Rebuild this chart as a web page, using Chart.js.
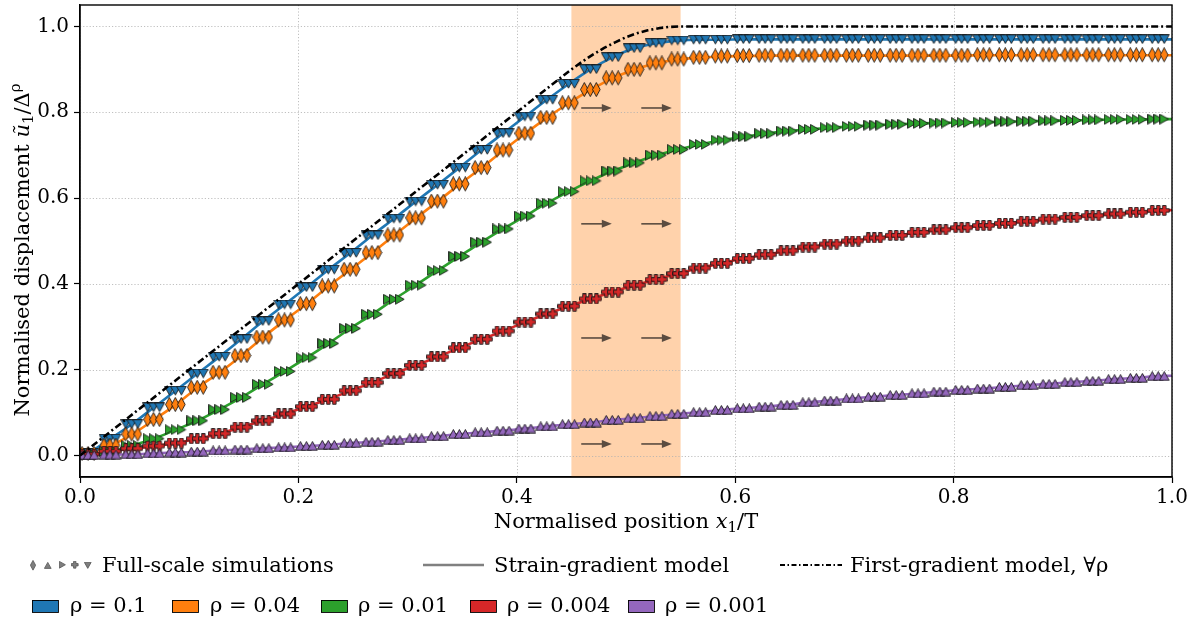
<!DOCTYPE html>
<html>
<head>
<meta charset="utf-8">
<script src="https://cdn.jsdelivr.net/npm/chart.js@4.4.0/dist/chart.umd.min.js"></script>
<style>
html,body{margin:0;padding:0;background:#fff;}
#wrap{position:relative;width:1191px;height:625px;}
canvas{display:block;}
</style>
</head>
<body>
<div id="wrap"><canvas id="c" width="1191" height="625"></canvas></div>
<script>
// ---------------- data ----------------
const xTicks = [0.0, 0.2, 0.4, 0.6, 0.8, 1.0];
const yTicks = [0.0, 0.2, 0.4, 0.6, 0.8, 1.0];

// centres of the 50 marker triplets (normalised position x1/T)
const groupX = [0.0075, 0.0275, 0.0475, 0.0675, 0.0875, 0.1075, 0.1275, 0.1475, 0.1675, 0.1875,
  0.2075, 0.2275, 0.2475, 0.2675, 0.2875, 0.3075, 0.3275, 0.3475, 0.3675, 0.3875,
  0.4075, 0.4275, 0.4475, 0.4675, 0.4875, 0.5075, 0.5275, 0.5475, 0.5675, 0.5875,
  0.6075, 0.6275, 0.6475, 0.6675, 0.6875, 0.7075, 0.7275, 0.7475, 0.7675, 0.7875,
  0.8075, 0.8275, 0.8475, 0.8675, 0.8875, 0.9075, 0.9275, 0.9475, 0.9675, 0.9875];
const tripletOffsets = [-0.0055, 0.0, 0.0055];

const rho01 = [0.006, 0.039, 0.073, 0.112, 0.151, 0.191, 0.230, 0.271, 0.313, 0.352,
  0.392, 0.433, 0.472, 0.513, 0.552, 0.592, 0.631, 0.671, 0.712, 0.751,
  0.790, 0.829, 0.866, 0.900, 0.928, 0.949, 0.961, 0.967, 0.969, 0.969,
  0.970, 0.970, 0.970, 0.970, 0.970, 0.970, 0.970, 0.970, 0.970, 0.970,
  0.970, 0.970, 0.970, 0.970, 0.970, 0.970, 0.970, 0.970, 0.970, 0.970];
const rho004 = [0.004, 0.023, 0.049, 0.083, 0.118, 0.158, 0.193, 0.232, 0.275, 0.315,
  0.353, 0.394, 0.433, 0.472, 0.513, 0.553, 0.592, 0.632, 0.670, 0.711,
  0.750, 0.787, 0.821, 0.852, 0.879, 0.899, 0.914, 0.923, 0.927, 0.930,
  0.931, 0.932, 0.932, 0.932, 0.932, 0.932, 0.932, 0.932, 0.932, 0.932,
  0.932, 0.933, 0.933, 0.933, 0.933, 0.933, 0.933, 0.933, 0.933, 0.933];
const rho001 = [0.002, 0.009, 0.023, 0.039, 0.060, 0.081, 0.107, 0.135, 0.166, 0.196,
  0.228, 0.261, 0.296, 0.329, 0.364, 0.397, 0.431, 0.464, 0.497, 0.528,
  0.558, 0.588, 0.615, 0.640, 0.663, 0.682, 0.700, 0.713, 0.725, 0.735,
  0.743, 0.750, 0.756, 0.760, 0.764, 0.767, 0.770, 0.772, 0.774, 0.775,
  0.776, 0.777, 0.778, 0.779, 0.780, 0.781, 0.782, 0.783, 0.783, 0.784];
const rho0004 = [0.003, 0.010, 0.016, 0.022, 0.029, 0.039, 0.051, 0.066, 0.081, 0.097,
  0.114, 0.131, 0.151, 0.170, 0.191, 0.210, 0.230, 0.251, 0.271, 0.290,
  0.311, 0.330, 0.348, 0.365, 0.381, 0.397, 0.410, 0.424, 0.437, 0.448,
  0.459, 0.468, 0.477, 0.486, 0.493, 0.500, 0.507, 0.513, 0.520, 0.526,
  0.531, 0.536, 0.541, 0.546, 0.551, 0.555, 0.559, 0.563, 0.567, 0.571];
const rho0001 = [0.001, 0.002, 0.003, 0.005, 0.007, 0.009, 0.012, 0.014, 0.017, 0.019,
  0.022, 0.025, 0.029, 0.032, 0.036, 0.040, 0.045, 0.050, 0.054, 0.058,
  0.063, 0.068, 0.073, 0.077, 0.083, 0.087, 0.092, 0.097, 0.101, 0.106,
  0.110, 0.114, 0.118, 0.124, 0.128, 0.133, 0.137, 0.141, 0.145, 0.149,
  0.153, 0.156, 0.160, 0.164, 0.167, 0.171, 0.174, 0.178, 0.181, 0.185];

// strain-gradient model curve: starts at origin, passes the triplet centres, ends at x = 1
const lineStart = [0.0, 0.0];
const lineEndY = {rho01: 0.970, rho004: 0.933, rho001: 0.784, rho0004: 0.572, rho0001: 0.186};

// first-gradient model (same for all rho)
const firstGradX = [0.0, 0.45, 0.46, 0.47, 0.48, 0.49, 0.50, 0.51, 0.52, 0.53, 0.54, 0.55, 1.0];
const firstGradY = [0.0, 0.900, 0.918, 0.935, 0.950, 0.963, 0.975, 0.984, 0.991, 0.996, 0.999, 1.0, 1.0];

// shaded band and arrows
const bandX = [0.45, 0.55];
const arrowY = [0.810, 0.540, 0.274, 0.027];
const arrowSpans = [[0.459, 0.487], [0.514, 0.542]];

const seriesLabels = ['ρ = 0.1', 'ρ = 0.04', 'ρ = 0.01', 'ρ = 0.004', 'ρ = 0.001'];
const seriesKeys = ['rho01', 'rho004', 'rho001', 'rho0004', 'rho0001'];
const seriesValues = [rho01, rho004, rho001, rho0004, rho0001];
const seriesColors = ['#1f77b4', '#ff7f0e', '#2ca02c', '#d62728', '#9467bd'];
const seriesMarkers = ['down', 'diamond', 'right', 'plus', 'up'];

// ---------------- markers ----------------
const FONT = "'DejaVu Serif', 'Liberation Serif', serif";
function shapePath(g, kind, s) {
  const p = (pts) => { g.moveTo(pts[0][0]*s, pts[0][1]*s); for (let i = 1; i < pts.length; i++) g.lineTo(pts[i][0]*s, pts[i][1]*s); };
  if (kind === 'down') p([[0.5,0.5],[9.5,0.5],[5,8.5]]);
  else if (kind === 'up') p([[5,0.5],[9.5,8.5],[0.5,8.5]]);
  else if (kind === 'right') p([[0.5,0.5],[8.5,5],[0.5,9.5]]);
  else if (kind === 'diamond') p([[4,0.5],[7.5,7],[4,13.5],[0.5,7]]);
  else if (kind === 'plus') { const a = 3.4, b = 6.6; p([[a,0.5],[b,0.5],[b,a],[9.5,a],[9.5,b],[b,b],[b,9.5],[a,9.5],[a,b],[0.5,b],[0.5,a],[a,a]]); }
}
const shapeSize = {down:[10,9], up:[10,9], right:[9,10], diamond:[8,14], plus:[10,10]};
function makeMarker(kind, fill, edge, scale, lw) {
  const sz = shapeSize[kind];
  const c = document.createElement('canvas');
  c.width = Math.ceil(sz[0]*scale); c.height = Math.ceil(sz[1]*scale);
  const g = c.getContext('2d');
  g.fillStyle = fill; g.strokeStyle = edge; g.lineWidth = lw || 0.9; g.lineJoin = 'miter';
  g.beginPath(); shapePath(g, kind, scale); g.closePath(); g.fill(); g.stroke();
  return c;
}

// ---------------- datasets ----------------
const datasets = [];
seriesValues.forEach((vals, si) => {
  const lineData = [{x: lineStart[0], y: lineStart[1]}];
  groupX.forEach((x, i) => lineData.push({x: x, y: vals[i]}));
  lineData.push({x: 1.0, y: lineEndY[seriesKeys[si]]});
  datasets.push({
    type: 'line', label: seriesLabels[si] + ' model', data: lineData,
    borderColor: seriesColors[si], borderWidth: 2.6, pointRadius: 0,
    cubicInterpolationMode: 'monotone', fill: false, order: 20 - si
  });
});
seriesValues.forEach((vals, si) => {
  const pts = [];
  groupX.forEach((x, i) => tripletOffsets.forEach(o => pts.push({x: x + o, y: vals[i]})));
  datasets.push({
    type: 'scatter', label: seriesLabels[si], data: pts,
    pointStyle: makeMarker(seriesMarkers[si], seriesColors[si], '#1a1a1a', 1.08, 0.9),
    pointRadius: 4, showLine: false, order: 10 - si
  });
});
datasets.push({
  type: 'line', label: 'First-gradient model', data: firstGradX.map((x, i) => ({x: x, y: firstGradY[i]})),
  borderColor: '#000', borderWidth: 2.6, borderDash: [7, 3, 2, 3], pointRadius: 0, tension: 0, fill: false, order: 0
});

// ---------------- drawing helpers ----------------
function richWidth(ctx, parts) {
  let w = 0;
  parts.forEach(p => { ctx.font = (p.italic ? 'italic ' : '') + p.size + 'px ' + FONT; w += ctx.measureText(p.t).width; });
  return w;
}
function drawRich(ctx, parts, x, y) {
  let cx = x;
  parts.forEach(p => {
    ctx.font = (p.italic ? 'italic ' : '') + p.size + 'px ' + FONT;
    ctx.fillText(p.t, cx, y + (p.dy || 0));
    cx += ctx.measureText(p.t).width;
  });
}

const bgPlugin = {
  id: 'bg',
  beforeDatasetsDraw(chart) {
    const {ctx, chartArea: a, scales: {x, y}} = chart;
    ctx.save();
    ctx.fillStyle = 'rgba(255,127,14,0.35)';
    const bx0 = x.getPixelForValue(bandX[0]), bx1 = x.getPixelForValue(bandX[1]);
    ctx.fillRect(bx0, a.top, bx1 - bx0, a.bottom - a.top);
    ctx.strokeStyle = '#b0b0b0'; ctx.lineWidth = 0.8; ctx.setLineDash([1.2, 2]);
    xTicks.forEach(v => { const px = Math.round(x.getPixelForValue(v)) + 0.5; ctx.beginPath(); ctx.moveTo(px, a.top); ctx.lineTo(px, a.bottom); ctx.stroke(); });
    yTicks.forEach(v => { const py = Math.round(y.getPixelForValue(v)) + 0.5; ctx.beginPath(); ctx.moveTo(a.left, py); ctx.lineTo(a.right, py); ctx.stroke(); });
    ctx.setLineDash([]);
    ctx.strokeStyle = '#5b4c40'; ctx.fillStyle = '#5b4c40'; ctx.lineWidth = 1.6;
    arrowY.forEach(v => {
      const py = y.getPixelForValue(v);
      arrowSpans.forEach(sp => {
        const x1 = x.getPixelForValue(sp[0]), x2 = x.getPixelForValue(sp[1]);
        ctx.beginPath(); ctx.moveTo(x1, py); ctx.lineTo(x2 - 8, py); ctx.stroke();
        ctx.beginPath(); ctx.moveTo(x2, py); ctx.lineTo(x2 - 10, py - 4); ctx.lineTo(x2 - 10, py + 4); ctx.closePath(); ctx.fill();
      });
    });
    ctx.restore();
  },
  afterDatasetsDraw(chart) {
    const {ctx, chartArea: a} = chart;
    ctx.save();
    ctx.strokeStyle = '#000'; ctx.lineWidth = 1.4;
    ctx.strokeRect(a.left, a.top, a.right - a.left, a.bottom - a.top);
    ctx.restore();
  },
  afterDraw(chart) {
    const {ctx, chartArea: a} = chart;
    ctx.save();
    ctx.fillStyle = '#000'; ctx.textBaseline = 'alphabetic'; ctx.textAlign = 'left';
    const xt = [{t: 'Normalised position ', size: 21}, {t: 'x', size: 21, italic: true}, {t: '1', size: 15, dy: 4}, {t: '/T', size: 21}];
    const xw = richWidth(ctx, xt);
    drawRich(ctx, xt, (a.left + a.right) / 2 - xw / 2, 528);
    const yt = [{t: 'Normalised displacement ', size: 21}, {t: 'ũ', size: 21, italic: true}, {t: '1', size: 15, dy: 4}, {t: '/Δ', size: 21}, {t: 'ρ', size: 15, dy: -9}];
    const yw = richWidth(ctx, yt);
    ctx.save();
    ctx.translate(29, (a.top + a.bottom) / 2 + 9);
    ctx.rotate(-Math.PI / 2);
    drawRich(ctx, yt, -yw / 2, 0);
    ctx.restore();

    const rowY1 = 565;
    const small = ['diamond', 'up', 'right', 'plus', 'down'];
    const smallX = [33, 48, 62, 75, 88];
    small.forEach((k, i) => {
      const m = makeMarker(k, '#7f7f7f', '#555555', 0.75, 0.8);
      ctx.drawImage(m, Math.round(smallX[i] - m.width / 2), Math.round(rowY1 - m.height / 2));
    });
    ctx.font = '21px ' + FONT;
    ctx.fillText('Full-scale simulations', 102, 572);
    ctx.strokeStyle = '#808080'; ctx.lineWidth = 2.6;
    ctx.beginPath(); ctx.moveTo(423, rowY1); ctx.lineTo(484, rowY1); ctx.stroke();
    ctx.fillText('Strain-gradient model', 494, 572);
    ctx.strokeStyle = '#000'; ctx.lineWidth = 2.2; ctx.setLineDash([5, 2.5, 1.5, 2.5]);
    ctx.beginPath(); ctx.moveTo(780, rowY1); ctx.lineTo(842, rowY1); ctx.stroke();
    ctx.setLineDash([]);
    ctx.fillText('First-gradient model, ∀ρ', 850, 572);

    const rectX = [32, 172, 321, 470, 628];
    const textX = [70, 210, 358, 507, 665];
    seriesLabels.forEach((lab, i) => {
      ctx.fillStyle = seriesColors[i];
      ctx.fillRect(rectX[i], 600, 26, 12);
      ctx.strokeStyle = '#000'; ctx.lineWidth = 0.9;
      ctx.strokeRect(rectX[i] + 0.5, 600.5, 26, 12);
      ctx.fillStyle = '#000';
      ctx.fillText(lab, textX[i], 612);
    });
    ctx.restore();
  }
};

new Chart(document.getElementById('c'), {
  type: 'scatter',
  data: {datasets: datasets},
  options: {
    responsive: false,
    animation: false,
    layout: {padding: {left: 0, right: 19, top: 3, bottom: 0}},
    plugins: {legend: {display: false}, tooltip: {enabled: false}},
    events: [],
    scales: {
      x: {
        type: 'linear', min: 0, max: 1,
        afterBuildTicks: s => { s.ticks = xTicks.map(v => ({value: v})); },
        afterFit: s => { s.height = 148; s.paddingLeft = 0; s.paddingRight = 0; },
        ticks: {callback: v => Number(v).toFixed(1), font: {family: FONT, size: 20}, color: '#000', padding: 3, maxRotation: 0, autoSkip: false},
        grid: {drawOnChartArea: false, drawTicks: true, tickLength: 6, tickColor: '#000', tickWidth: 1.2, color: '#000'},
        border: {display: true, color: '#000', width: 1.4}
      },
      y: {
        type: 'linear', min: -0.05, max: 1.05,
        afterBuildTicks: s => { s.ticks = yTicks.map(v => ({value: v})); },
        afterFit: s => { s.width = 80; s.paddingTop = 0; s.paddingBottom = 0; },
        ticks: {callback: v => Number(v).toFixed(1), font: {family: FONT, size: 20}, color: '#000', padding: 5, autoSkip: false},
        grid: {drawOnChartArea: false, drawTicks: true, tickLength: 6, tickColor: '#000', tickWidth: 1.2, color: '#000'},
        border: {display: true, color: '#000', width: 1.4}
      }
    }
  },
  plugins: [bgPlugin]
});
</script>
</body>
</html>
